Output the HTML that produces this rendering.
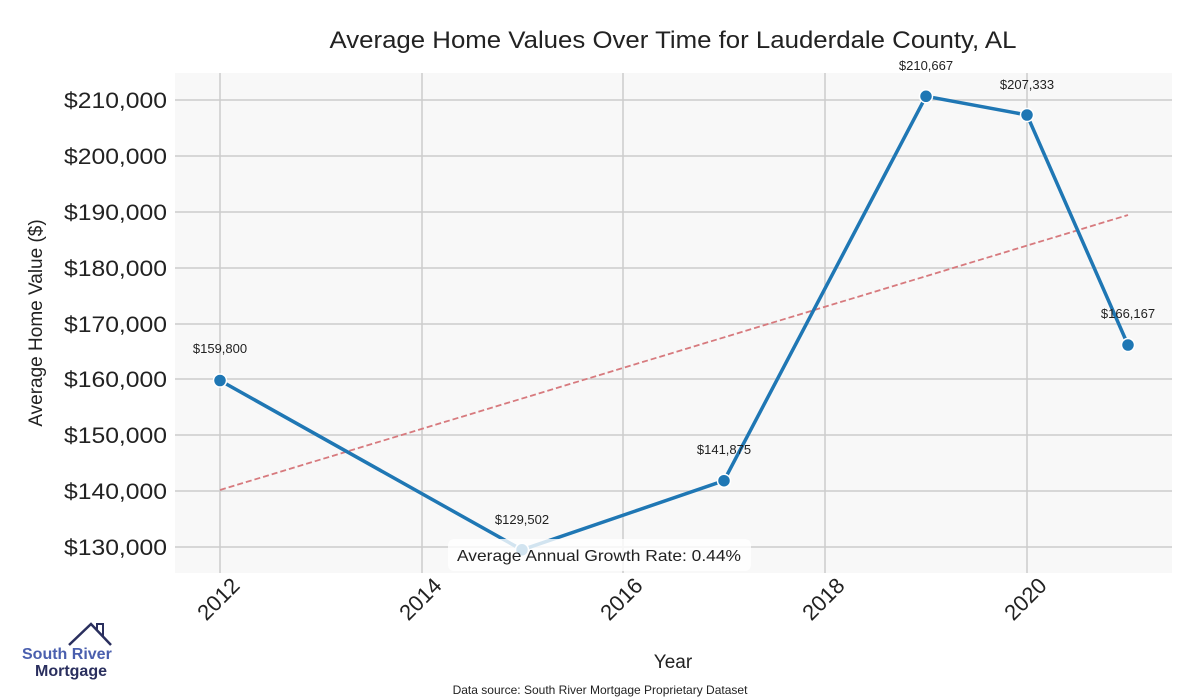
<!DOCTYPE html>
<html><head><style>body{margin:0;background:#fff}svg{display:block}</style></head><body>
<svg width="1200" height="700" xmlns="http://www.w3.org/2000/svg" font-family="Liberation Sans, sans-serif">
<rect width="1200" height="700" fill="#fff"/>
<rect x="175" y="73" width="997" height="500" fill="#f8f8f8"/>
<g stroke="#cccccc" stroke-width="1.5">
<line x1="220" y1="73" x2="220" y2="573"/><line x1="422" y1="73" x2="422" y2="573"/>
<line x1="623" y1="73" x2="623" y2="573"/><line x1="825" y1="73" x2="825" y2="573"/>
<line x1="1027" y1="73" x2="1027" y2="573"/>
<line x1="175" y1="100" x2="1172" y2="100"/><line x1="175" y1="156" x2="1172" y2="156"/>
<line x1="175" y1="212" x2="1172" y2="212"/><line x1="175" y1="268" x2="1172" y2="268"/>
<line x1="175" y1="324" x2="1172" y2="324"/><line x1="175" y1="379" x2="1172" y2="379"/>
<line x1="175" y1="435" x2="1172" y2="435"/><line x1="175" y1="491" x2="1172" y2="491"/>
<line x1="175" y1="547" x2="1172" y2="547"/>
</g>
<g font-size="22" fill="#222" text-anchor="end">
<text x="167" y="108" textLength="103" lengthAdjust="spacingAndGlyphs">$210,000</text><text x="167" y="164" textLength="103" lengthAdjust="spacingAndGlyphs">$200,000</text><text x="167" y="220" textLength="103" lengthAdjust="spacingAndGlyphs">$190,000</text>
<text x="167" y="276" textLength="103" lengthAdjust="spacingAndGlyphs">$180,000</text><text x="167" y="332" textLength="103" lengthAdjust="spacingAndGlyphs">$170,000</text><text x="167" y="387" textLength="103" lengthAdjust="spacingAndGlyphs">$160,000</text>
<text x="167" y="443" textLength="103" lengthAdjust="spacingAndGlyphs">$150,000</text><text x="167" y="499" textLength="103" lengthAdjust="spacingAndGlyphs">$140,000</text><text x="167" y="555" textLength="103" lengthAdjust="spacingAndGlyphs">$130,000</text>
</g>
<g font-size="22" fill="#222" text-anchor="end">
<text transform="translate(241,587) rotate(-45)">2012</text>
<text transform="translate(443,587) rotate(-45)">2014</text>
<text transform="translate(644,587) rotate(-45)">2016</text>
<text transform="translate(846,587) rotate(-45)">2018</text>
<text transform="translate(1048,587) rotate(-45)">2020</text>
</g>
<text x="673" y="48" font-size="24" text-anchor="middle" fill="#222" textLength="687" lengthAdjust="spacingAndGlyphs">Average Home Values Over Time for Lauderdale County, AL</text>
<text x="673" y="668" font-size="19" text-anchor="middle" fill="#222">Year</text>
<text transform="translate(42,323) rotate(-90)" font-size="19" text-anchor="middle" fill="#222">Average Home Value ($)</text>
<text x="600" y="694" font-size="12" text-anchor="middle" fill="#222">Data source: South River Mortgage Proprietary Dataset</text>
<line x1="220" y1="490" x2="1128" y2="215" stroke="#d77a7e" stroke-width="1.8" stroke-dasharray="6,3"/>
<polyline points="220,380.5 522,549.8 724,480.7 926,96.3 1027,115 1128,345" fill="none" stroke="#1f77b4" stroke-width="3.5"/>
<g fill="#1f77b4" stroke="#fff" stroke-width="1.5">
<circle cx="220" cy="380.5" r="6.5"/><circle cx="522" cy="549.8" r="6.5"/><circle cx="724" cy="480.7" r="6.5"/>
<circle cx="926" cy="96.3" r="6.5"/><circle cx="1027" cy="115" r="6.5"/><circle cx="1128" cy="345" r="6.5"/>
</g>
<g font-size="13" fill="#222" text-anchor="middle">
<text x="220" y="353">$159,800</text><text x="522" y="524">$129,502</text><text x="724" y="454">$141,875</text>
<text x="926" y="70">$210,667</text><text x="1027" y="89">$207,333</text><text x="1128" y="318">$166,167</text>
</g>
<rect x="448" y="539" width="303" height="32" rx="6" fill="#fff" fill-opacity="0.8"/>
<text x="599" y="561" font-size="16" text-anchor="middle" fill="#222" textLength="284" lengthAdjust="spacingAndGlyphs">Average Annual Growth Rate: 0.44%</text>
<polyline points="69,645 91,624 111,645" fill="none" stroke="#2a2f5e" stroke-width="2.5"/>
<polyline points="97,630 97,624 103,624 103,636" fill="none" stroke="#2a2f5e" stroke-width="2"/>
<text x="22" y="659" font-size="16" font-weight="bold" fill="#4a5fae">South River</text>
<text x="35" y="676" font-size="16" font-weight="bold" fill="#2a2f5e">Mortgage</text>
</svg>
</body></html>
